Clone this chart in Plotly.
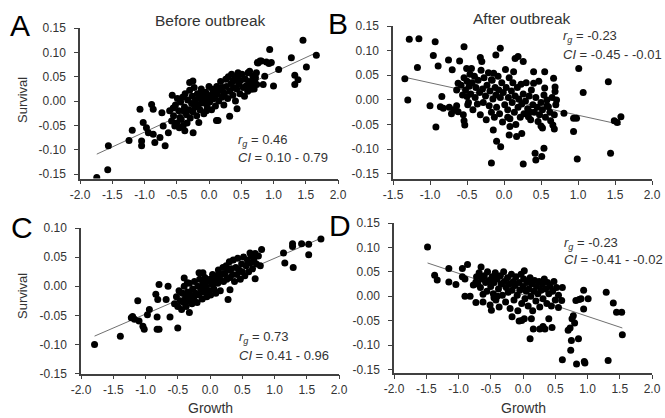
import plotly.graph_objects as go
import numpy as np

# ---------------- data ----------------
# Panel A (before outbreak, top)
a_x = [-1.74, -1.57, -1.56, -1.24, -1.19, -1.07, -1.045, -1.045, -1.02, -0.89, -0.865, -0.97, -0.94,
       -0.865, -0.84, -0.76, -0.73, -0.71, -0.68, -0.63, -0.61, -0.58, -0.57, -0.555, -0.53, -0.45,
       -0.40, -0.375, -0.30, -0.25, -0.246, -0.158, -0.116, -0.04, 0.054, 0.116, 0.14, 0.32, 0.373,
       0.435, 0.45, 0.605, 0.63, 0.657, 0.68, 0.683, 0.71, 0.735, 0.74, 0.75, 0.76, 0.79, 0.812, 0.84,
       0.864, 0.89, 0.93, 0.941, 0.966, 1.00, 1.08, 1.277, 1.33, 1.33, 1.38, 1.457, 1.51, 1.664,
       -0.55, -0.52, -0.50, -0.49, -0.47, -0.46, -0.44, -0.43, -0.41, -0.40, -0.38, -0.37, -0.35,
       -0.34, -0.33, -0.31, -0.30, -0.29, -0.27, -0.26, -0.25, -0.23, -0.22, -0.21, -0.19, -0.18,
       -0.17, -0.15, -0.14, -0.12, -0.11, -0.09, -0.08, -0.06, -0.05, -0.03, -0.02, 0.00, 0.01, 0.03,
       0.04, 0.06, 0.07, 0.09, 0.10, 0.12, 0.13, 0.15, 0.17, 0.18, 0.20, 0.21, 0.23, 0.24, 0.26, 0.27,
       0.29, 0.30, 0.32, 0.34, 0.35, 0.37, 0.38, 0.40, 0.41, 0.43, 0.44, 0.46, 0.48, 0.49, 0.51, 0.53,
       0.55, 0.56, 0.58, 0.60, 0.62, 0.66, 0.70, 0.72]
a_y = [-0.157, -0.141, -0.092, -0.081, -0.060, -0.017, -0.082, -0.092, -0.044, -0.007, -0.017, -0.055,
       -0.065, -0.068, -0.085, -0.075, -0.024, -0.051, -0.092, -0.065, -0.020, -0.041, 0.012, -0.014,
       -0.051, -0.034, -0.020, -0.061, 0.038, 0.041, -0.065, -0.044, 0.020, -0.020, 0.024, -0.040,
       -0.040, -0.031, 0.041, -0.016, 0.058, 0.058, 0.061, 0.024, 0.051, 0.041, 0.044, 0.058, 0.034,
       0.079, 0.078, 0.082, 0.082, 0.034, 0.051, 0.080, 0.077, 0.106, 0.079, 0.031, 0.065, 0.089,
       0.053, 0.034, 0.044, 0.125, 0.070, 0.094,
       -0.030, -0.008, -0.045, 0.005, -0.020, -0.055, -0.002, -0.038, 0.008, -0.050, -0.012, 0.015,
       -0.028, -0.045, 0.002, -0.018, 0.022, -0.035, -0.005, 0.010, -0.022, 0.028, -0.012, 0.002,
       -0.030, 0.015, -0.008, 0.005, -0.018, 0.025, -0.004, 0.012, -0.026, 0.002, 0.018, -0.010, 0.008,
       0.030, -0.002, 0.012, -0.018, 0.004, 0.022, 0.010, -0.010, 0.030, 0.015, 0.000, 0.022, 0.040,
       0.008, 0.028, -0.008, 0.016, 0.045, 0.030, 0.005, 0.050, 0.020, 0.036, 0.055, 0.012, 0.028,
       0.045, 0.000, 0.025, 0.052, 0.035, 0.015, 0.042, 0.055, 0.028, 0.010, 0.046, 0.032, 0.020,
       0.040, 0.030, 0.025, 0.048]

# Panel B (after outbreak, top)
b_x = [-1.34, -1.30, -1.28, -1.15, -1.17, -1.00, -0.955, -0.93, -0.92, -0.89, -0.86, -0.82, -0.84,
       -0.75, -0.74, -0.71, -0.68, -0.70, -0.64, -0.62, -0.60, -0.64, -0.62, -0.55, -0.53, -0.54,
       -0.54, -0.505, -0.44, -0.50, -0.48, -0.32, -0.30, -0.14, -0.17, -0.11, -0.05, -0.145, -0.10,
       -0.045, -0.17, 0.05, 0.08, 0.07, 0.13, 0.15, 0.19, 0.17, 0.26, 0.24, 0.26, 0.33, 0.35, 0.40,
       0.40, 0.42, 0.43, 0.51, 0.54, 0.46, 0.50, 0.52, 0.55, 0.55, 0.58, 0.60, 0.63, 0.66, 0.68, 0.67,
       0.69, 0.69, 0.71, 0.81, 0.94, 0.98, 0.94, 1.01, 0.99, 1.07, 1.41, 1.44, 1.49, 1.53, 1.58,
       -0.58, -0.56, -0.54, -0.52, -0.50, -0.49, -0.47, -0.46, -0.45, -0.43, -0.42, -0.40, -0.39,
       -0.38, -0.36, -0.35, -0.33, -0.32, -0.31, -0.29, -0.28, -0.27, -0.25, -0.24, -0.23, -0.21,
       -0.20, -0.19, -0.17, -0.16, -0.15, -0.13, -0.12, -0.11, -0.10, -0.08, -0.07, -0.06, -0.05,
       -0.03, -0.02, -0.01, 0.01, 0.02, 0.03, 0.05, 0.06, 0.07, 0.08, 0.10, 0.11, 0.12, 0.14, 0.15,
       0.16, 0.18, 0.19, 0.20, 0.22, 0.23, 0.24, 0.26, 0.27, 0.29, 0.30, 0.32, 0.34, 0.36, 0.37, 0.39,
       0.41, 0.43, 0.45, 0.47, 0.48, 0.50, 0.52, 0.54, 0.56, 0.58, 0.62, 0.65, 0.68, 0.70]
b_y = [0.043, 0.000, 0.123, 0.124, 0.066, -0.012, 0.090, 0.118, -0.055, 0.069, -0.014, -0.017, 0.007,
       0.081, -0.015, -0.028, -0.020, 0.061, 0.020, 0.034, 0.079, -0.012, -0.024, -0.030, -0.051,
       -0.042, 0.108, 0.064, 0.064, 0.007, -0.005, 0.086, 0.078, 0.054, 0.041, 0.091, 0.105, -0.061,
       -0.084, -0.095, -0.128, -0.035, -0.054, -0.071, 0.057, 0.084, 0.088, -0.074, 0.078, -0.068,
       -0.130, -0.034, -0.024, 0.034, 0.057, -0.108, -0.122, -0.115, -0.098, -0.044, -0.053, -0.057,
       0.057, 0.024, 0.000, -0.014, -0.042, -0.051, -0.059, 0.044, 0.026, 0.017, 0.000, -0.027,
       -0.037, -0.037, -0.064, 0.064, -0.120, 0.015, 0.037, -0.108, -0.042, -0.046, -0.034,
       0.030, 0.010, 0.045, 0.020, 0.038, -0.010, 0.028, 0.052, 0.012, 0.035, -0.020, 0.048, 0.005,
       0.025, -0.008, 0.040, 0.015, -0.030, 0.060, 0.022, -0.005, 0.045, 0.008, -0.040, 0.030, 0.055,
       -0.012, 0.018, -0.025, 0.040, 0.002, -0.035, 0.025, 0.010, -0.015, 0.048, 0.020, -0.028, 0.005,
       0.035, -0.045, 0.015, -0.010, 0.062, 0.025, -0.020, 0.005, 0.045, -0.038, 0.018, -0.005, 0.035,
       -0.025, 0.008, -0.050, 0.025, -0.015, 0.002, -0.035, 0.032, -0.008, 0.012, -0.028, -0.002,
       0.035, -0.018, 0.008, -0.040, 0.020, -0.010, -0.025, 0.005, -0.015, 0.038, -0.030, -0.005,
       -0.020, 0.010, -0.035, -0.012, -0.025, 0.005, -0.030, -0.010]

# Panel C (before outbreak, bottom)
c_x = [-1.79, -1.39, -1.12, -1.20, -1.17, -1.22, -1.10, -1.04, -1.02, -0.94, -0.97, -0.82, -0.82,
       -0.79, -0.79, -0.84, -0.81, -0.65, -0.68, -0.62, -0.50, -0.32, -0.40, -0.35, -0.17, -0.11,
       0.28, 0.31, 0.62, 0.70, 0.70, 0.80, 1.14, 1.16, 1.29, 1.28, 1.28, 1.42, 1.53, 1.53, 1.72,
       -0.55, -0.52, -0.50, -0.48, -0.46, -0.44, -0.43, -0.41, -0.40, -0.38, -0.37, -0.35, -0.33,
       -0.32, -0.30, -0.28, -0.27, -0.25, -0.24, -0.22, -0.20, -0.19, -0.17, -0.16, -0.14, -0.12,
       -0.11, -0.09, -0.08, -0.06, -0.05, -0.03, -0.02, 0.00, 0.01, 0.03, 0.04, 0.06, 0.07, 0.09,
       0.10, 0.12, 0.13, 0.15, 0.16, 0.18, 0.20, 0.21, 0.23, 0.25, 0.26, 0.28, 0.30, 0.31, 0.33,
       0.35, 0.36, 0.38, 0.40, 0.42, 0.43, 0.45, 0.47, 0.49, 0.50, 0.52, 0.54, 0.56, 0.58, 0.60,
       0.62, 0.64, 0.66, 0.68, 0.72, 0.75, 0.78]
c_y = [-0.100, -0.086, -0.025, -0.052, -0.057, -0.054, -0.060, -0.069, -0.074, -0.040, -0.049,
       -0.053, -0.074, -0.074, 0.003, -0.014, -0.023, 0.000, -0.023, -0.053, -0.072, -0.045, 0.014,
       0.006, 0.023, 0.023, -0.023, -0.006, 0.057, 0.056, 0.013, 0.063, 0.057, 0.040, 0.032, 0.073,
       0.068, 0.073, 0.072, 0.054, 0.081,
       -0.030, -0.018, -0.035, -0.008, -0.025, -0.040, -0.012, -0.028, 0.000, -0.020, -0.035, -0.010,
       -0.025, 0.005, -0.015, -0.030, -0.005, -0.020, 0.008, -0.012, -0.028, 0.000, -0.015, 0.012,
       -0.005, -0.022, 0.005, -0.010, 0.015, -0.002, -0.018, 0.008, -0.008, 0.012, -0.015, 0.003,
       0.020, -0.005, 0.010, -0.012, 0.018, 0.005, 0.028, 0.012, -0.008, 0.020, 0.032, 0.008, 0.022,
       0.035, 0.012, 0.028, 0.042, 0.015, 0.030, 0.020, 0.045, 0.008, 0.032, 0.020, 0.048, 0.028,
       0.012, 0.038, 0.025, 0.050, 0.018, 0.035, 0.045, 0.025, 0.040, 0.052, 0.030, 0.045, 0.038,
       0.052, 0.035]

# Panel D (after outbreak, bottom)
d_x = [-1.48, -1.37, -1.33, -1.15, -1.15, -1.04, -0.94, -0.86, -0.94, -0.90, -0.90, -0.82, -0.73,
       -0.77, -0.73, -0.65, -0.62, -0.49, -0.45, -0.40, -0.17, -0.06, -0.02, 0.02, 0.11, 0.13, 0.16,
       0.26, 0.31, 0.34, 0.40, 0.45, 0.55, 0.60, 0.61, 0.61, 0.70, 0.73, 0.76, 0.78, 0.80, 0.74, 0.75,
       0.82, 0.87, 0.90, 0.83, 0.86, 0.94, 0.94, 0.95, 0.96, 1.01, 1.29, 1.32, 1.40, 1.45, 1.53, 1.54,
       -0.72, -0.70, -0.68, -0.66, -0.64, -0.62, -0.60, -0.58, -0.56, -0.55, -0.53, -0.51, -0.50,
       -0.48, -0.46, -0.45, -0.43, -0.42, -0.40, -0.38, -0.37, -0.35, -0.34, -0.32, -0.30, -0.29,
       -0.27, -0.26, -0.24, -0.23, -0.21, -0.20, -0.18, -0.17, -0.15, -0.14, -0.12, -0.11, -0.09,
       -0.08, -0.06, -0.05, -0.03, -0.02, 0.00, 0.01, 0.02, 0.03, 0.05, 0.06, 0.08, 0.09, 0.11, 0.12,
       0.14, 0.15, 0.17, 0.18, 0.20, 0.21, 0.23, 0.25, 0.26, 0.28, 0.30, 0.31, 0.33, 0.35, 0.37, 0.38,
       0.40, 0.42, 0.44, 0.46, 0.48, 0.50, 0.52, 0.55]
d_y = [0.101, 0.043, 0.033, 0.057, 0.029, 0.024, 0.057, 0.065, 0.040, 0.035, 0.000, 0.000, -0.013,
       0.023, 0.029, 0.060, 0.004, -0.029, -0.003, 0.000, -0.042, -0.051, -0.050, -0.046, -0.087,
       -0.046, -0.067, -0.067, -0.062, -0.067, -0.046, -0.064, -0.023, -0.009, 0.018, -0.130, -0.070,
       -0.065, -0.046, -0.040, -0.055, -0.111, -0.091, -0.009, -0.007, -0.005, -0.139, -0.087, 0.012,
       -0.026, -0.134, -0.137, -0.005, 0.008, -0.132, -0.014, -0.033, -0.033, -0.079,
       0.040, 0.025, 0.048, 0.018, 0.035, -0.012, 0.042, 0.028, 0.010, 0.050, 0.032, -0.018, 0.020,
       0.040, 0.005, 0.028, 0.048, -0.008, 0.035, 0.015, -0.022, 0.042, 0.025, 0.002, 0.050, 0.030,
       -0.012, 0.018, 0.038, 0.008, 0.025, -0.025, 0.045, 0.012, 0.030, -0.008, 0.022, 0.040, 0.002,
       -0.030, 0.028, 0.012, 0.045, -0.015, 0.020, 0.035, 0.052, -0.005, 0.010, 0.028, -0.020, 0.015,
       0.038, 0.000, 0.025, -0.030, 0.010, 0.032, -0.010, 0.020, 0.005, 0.030, -0.022, 0.012, 0.025,
       -0.005, 0.035, 0.015, -0.015, 0.028, 0.005, 0.020, -0.020, 0.010, 0.030, -0.008, 0.018, 0.002]

# regression lines (slope, intercept)
fit_a = (0.0612, -0.0025)
fit_b = (-0.0329, 0.0019)
fit_c = (0.0479, 0.0000)
fit_d = (-0.0441, 0.0028)

stats_a = ("0.46", "0.10 - 0.79")
stats_b = ("-0.23", "-0.45 - -0.01")
stats_c = ("0.73", "0.41 - 0.96")
stats_d = ("-0.23", "-0.41 - -0.02")

x_ticks_full = [-2.0, -1.5, -1.0, -0.5, 0.0, 0.5, 1.0, 1.5, 2.0]
x_ticks_b = [-1.5, -1.0, -0.5, 0.0, 0.5, 1.0, 1.5, 2.0]
y_ticks_full = [-0.15, -0.10, -0.05, 0.00, 0.05, 0.10, 0.15]
y_ticks_c = [-0.15, -0.10, -0.05, 0.00, 0.05, 0.10]

# ---------------- figure ----------------
W, H = 665, 418
FONT = "Liberation Sans, Arial, sans-serif"
AX = "#404040"
TXT = "#333333"

def fx(px):
    return px / W

def fy(py):
    return 1 - py / H

def xfmt(v):
    return f"{v:.1f}"

def yfmt(v):
    return f"{v:.2f}"

fig = go.Figure()

panels = [
    (a_x, a_y, fit_a, "x", "y"),
    (b_x, b_y, fit_b, "x2", "y2"),
    (c_x, c_y, fit_c, "x3", "y3"),
    (d_x, d_y, fit_d, "x4", "y4"),
]
for xs, ys, fit, xa, ya in panels:
    lx = np.array([min(xs), max(xs)])
    fig.add_trace(go.Scatter(x=lx, y=fit[0] * lx + fit[1], mode="lines", xaxis=xa, yaxis=ya,
                             line=dict(color="#707070", width=1), showlegend=False, hoverinfo="skip"))
    fig.add_trace(go.Scatter(x=xs, y=ys, mode="markers", xaxis=xa, yaxis=ya,
                             marker=dict(color="black", size=7, line=dict(width=0)),
                             showlegend=False))

def axis(domain, rng, ticks, fmt, anchor, standoff):
    return dict(domain=domain, range=rng, tickmode="array", tickvals=ticks,
                ticktext=[fmt(t) for t in ticks], showline=True, linecolor=AX, linewidth=1.5,
                ticks="outside", ticklen=4, tickwidth=1, tickcolor=AX, showgrid=False,
                zeroline=False, anchor=anchor, automargin=False, ticklabelstandoff=standoff,
                tickfont=dict(family=FONT, size=12, color=TXT), fixedrange=True)

layout = dict(
    width=W, height=H, margin=dict(l=0, r=0, t=0, b=0),
    paper_bgcolor="white", plot_bgcolor="white",
    xaxis=axis([fx(80), fx(338)], [-2.0, 2.0], x_ticks_full, xfmt, "y", 0),
    yaxis=axis([fy(178.5), fy(28)], [-0.159, 0.15], y_ticks_full, yfmt, "x", 6),
    xaxis2=axis([fx(393), fx(652)], [-1.5, 2.0], x_ticks_b, xfmt, "y2", 0),
    yaxis2=axis([fy(178.8), fy(26)], [-0.160, 0.15], y_ticks_full, yfmt, "x2", 6),
    xaxis3=axis([fx(81), fx(339)], [-2.0, 2.0], x_ticks_full, xfmt, "y3", 0),
    yaxis3=axis([fy(373.5), fy(228)], [-0.15, 0.10], y_ticks_c, yfmt, "x3", 6),
    xaxis4=axis([fx(394), fx(652)], [-2.0, 2.0], x_ticks_full, xfmt, "y4", 0),
    yaxis4=axis([fy(373.3), fy(223)], [-0.158, 0.15], y_ticks_full, yfmt, "x4", 6),
)
fig.update_layout(**layout)

ann = []
def text(px, py, s, size, color=TXT, xanchor="center", angle=0):
    ann.append(dict(x=fx(px), y=fy(py), xref="paper", yref="paper", text=s, showarrow=False,
                    xanchor=xanchor, yanchor="middle", textangle=angle,
                    font=dict(family=FONT, size=size, color=color)))

# panel letters
text(20, 25, "A", 30, "black")
text(338, 23, "B", 30, "black")
text(22, 228, "C", 30, "black")
text(340, 225, "D", 30, "black")
# titles
text(210, 21, "Before outbreak", 15.5)
text(522, 19, "After outbreak", 15.5)
# axis titles
text(22, 100, "Survival", 13, angle=-90)
text(22, 296, "Survival", 13, angle=-90)
text(210, 408, "Growth", 14)
text(523, 408, "Growth", 14)
# stats
for (px, py1, py2), (rg, ci) in [((236, 140, 157.5), stats_a), ((561, 37, 54), stats_b),
                                  ((237, 337, 355), stats_c), ((562, 243, 259), stats_d)]:
    text(px, py1, f"<i>r</i><sub><i>g</i></sub> = {rg}", 13, xanchor="left")
    text(px, py2, f"<i>CI</i> = {ci}", 13, xanchor="left")

fig.update_layout(annotations=ann)
fig.write_html("out.html", config={"displayModeBar": False},
               post_script="document.body.style.margin='0';document.body.style.padding='0';")
